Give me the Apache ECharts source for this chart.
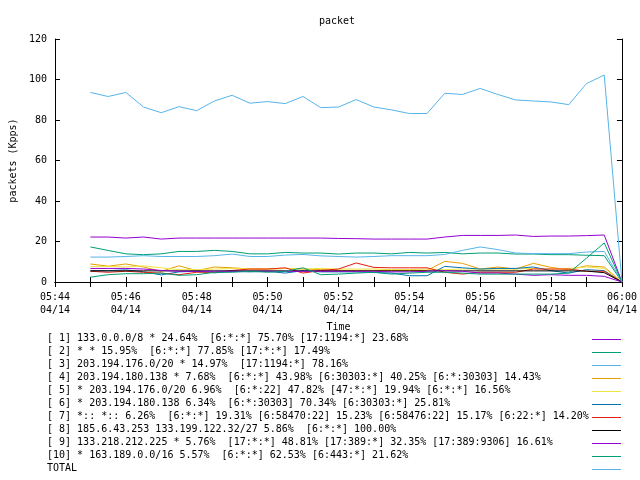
<!DOCTYPE html>
<html>
<head>
<meta charset="utf-8">
<script src="https://cdn.jsdelivr.net/npm/echarts@6/dist/echarts.min.js"></script>
<style>html,body{margin:0;padding:0;background:#fff;}#c{width:640px;height:480px;}</style>
</head>
<body>
<div id="c"></div>
<script>
var times = ["05:45:00","05:45:30","05:46:00","05:46:30","05:47:00","05:47:30","05:48:00","05:48:30","05:49:00","05:49:30",
  "05:50:00","05:50:30","05:51:00","05:51:30","05:52:00","05:52:30","05:53:00","05:53:30","05:54:00","05:54:30",
  "05:55:00","05:55:30","05:56:00","05:56:30","05:57:00","05:57:30","05:58:00","05:58:30","05:59:00","05:59:30","06:00:00"];

var names = [
  "[ 1] 133.0.0.0/8 * 24.64%  [6:*:*] 75.70% [17:1194:*] 23.68%",
  "[ 2] * * 15.95%  [6:*:*] 77.85% [17:*:*] 17.49%",
  "[ 3] 203.194.176.0/20 * 14.97%  [17:1194:*] 78.16%",
  "[ 4] 203.194.180.138 * 7.68%  [6:*:*] 43.98% [6:30303:*] 40.25% [6:*:30303] 14.43%",
  "[ 5] * 203.194.176.0/20 6.96%  [6:*:22] 47.82% [47:*:*] 19.94% [6:*:*] 16.56%",
  "[ 6] * 203.194.180.138 6.34%  [6:*:30303] 70.34% [6:30303:*] 25.81%",
  "[ 7] *:: *:: 6.26%  [6:*:*] 19.31% [6:58470:22] 15.23% [6:58476:22] 15.17% [6:22:*] 14.20%",
  "[ 8] 185.6.43.253 133.199.122.32/27 5.86%  [6:*:*] 100.00%",
  "[ 9] 133.218.212.225 * 5.76%  [17:*:*] 48.81% [17:389:*] 32.35% [17:389:9306] 16.61%",
  "[10] * 163.189.0.0/16 5.57%  [6:*:*] 62.53% [6:443:*] 21.62%",
  "TOTAL"
];

var colors = ["#9400d3","#009e73","#56b4e9","#e69f00","#f0e442","#0072b2","#e51e10","#000000","#9400d3","#009e73","#56b4e9"];

var s1 = [22.2,22.2,21.7,22.2,21.2,21.7,21.7,21.7,21.7,21.7,21.7,21.7,21.7,21.7,21.5,21.4,21.2,21.2,21.2,21.2,22.2,23.0,23.0,23.0,23.2,22.5,22.7,22.7,22.9,23.2,0];
var s2 = [17.3,15.6,13.9,13.5,13.9,15.1,15.1,15.6,15.1,13.9,13.9,14.6,14.3,14.3,13.8,14.3,14.3,13.9,14.6,14.3,14.6,13.9,14.3,14.3,13.8,13.8,13.5,13.5,13.2,13.0,0];
var s3 = [12.3,12.3,12.6,13.0,12.6,12.6,12.6,13.0,13.8,12.6,12.6,13.3,13.6,12.9,12.6,12.3,12.6,13.0,13.0,13.0,13.6,15.6,17.3,16.0,14.3,14.0,14.0,14.0,14.8,15.1,0];
var s4 = [8.9,7.8,8.9,7.4,5.3,8.0,5.6,7.4,7.0,6.4,6.4,6.7,6.4,6.1,5.7,5.7,5.7,5.7,5.7,5.7,10.2,9.2,6.4,7.4,6.4,9.2,7.2,6.1,8.0,7.4,0];
var s5 = [7.7,7.7,7.4,8.0,7.0,6.1,6.1,6.4,6.7,6.4,6.4,6.7,6.4,6.7,6.4,6.4,6.4,6.1,6.1,6.4,6.1,6.4,6.4,6.4,6.4,6.7,6.4,6.7,7.4,6.7,0];
var s6 = [5.6,5.6,6.0,5.0,3.5,5.0,5.3,4.5,5.3,5.0,5.3,4.4,5.6,5.0,5.0,5.0,4.7,4.4,3.1,3.1,7.7,7.0,6.4,6.7,6.7,7.4,5.6,4.4,6.1,5.6,0];
var s7 = [5.3,4.8,5.3,4.8,4.4,3.6,4.8,4.8,5.7,6.4,6.4,7.0,4.4,5.7,6.4,9.4,7.2,7.0,7.0,7.0,4.8,3.9,4.8,4.8,4.8,6.4,6.4,6.4,5.3,5.3,0];
var s8 = [5.5,5.5,5.5,5.5,5.5,5.5,5.5,5.5,5.5,5.5,5.5,5.5,5.5,5.5,5.5,5.5,5.5,5.5,5.5,5.5,5.5,5.5,5.5,5.5,5.5,5.5,5.5,5.5,5.4,4.6,0];
var s9 = [6.7,6.7,6.7,6.4,5.7,5.3,5.3,5.3,5.3,5.3,5.3,5.3,5.3,5.3,5.3,5.3,5.3,5.0,5.0,5.3,5.6,5.3,4.4,4.4,3.9,3.3,3.6,3.3,3.3,2.8,0];
var s10 = [2.4,3.6,4.1,4.1,4.4,3.3,3.6,4.8,4.8,5.3,4.8,5.3,7.0,3.6,3.9,4.4,4.8,3.9,4.4,4.8,4.8,4.4,3.9,3.9,3.9,3.9,3.9,4.4,11.8,19.3,0];
var total = [93.6,91.6,93.6,86.4,83.6,86.6,84.6,89.4,92.2,88.3,89.1,88.1,91.6,86.1,86.4,90.1,86.4,85.0,83.2,83.2,93.2,92.6,95.6,92.6,89.9,89.4,88.9,87.6,98.0,102.2,0];

var yTicks = [0,20,40,60,80,100,120];

var allSeries = [s1,s2,s3,s4,s5,s6,s7,s8,s9,s10,total];

function toMin(t){ var p=t.split(':'); return +p[0]*60 + +p[1] + (+p[2])/60; }
function pad(n){ return (n<10?'0':'')+n; }

var FONT = 'DejaVu Sans Mono';
var chart = echarts.init(document.getElementById('c'), null, {renderer:'canvas'});

var series = allSeries.map(function(vals, k){
  return {
    type:'line', name:names[k], showSymbol:false, symbol:'none', animation:false,
    lineStyle:{color:colors[k], width:1}, itemStyle:{color:colors[k]},
    data: vals.map(function(v,i){ return [toMin(times[i]), v]; }),
    xAxisIndex:0, yAxisIndex:0, z: 2+k
  };
});

var graphics = [];
names.forEach(function(n,k){
  var yc = 339.5 + 13*k;
  graphics.push({type:'text', left:47, top: yc-6, style:{text:n, font:'10px "'+FONT+'"', fill:'#000'}});
  graphics.push({type:'line', shape:{x1:592, y1:yc, x2:621, y2:yc}, style:{stroke:colors[k], lineWidth:1}});
});

var xMin = 344, xMax = 360;
var tickCommon = {show:true, inside:true, length:5, lineStyle:{color:'#000', width:1}};
var lineCommon = {show:true, lineStyle:{color:'#000', width:1}};

chart.setOption({
  animation:false,
  backgroundColor:'#fff',
  title:{text:'packet', top:16, padding:0, left:319, textStyle:{fontFamily:FONT, fontSize:10, fontWeight:'normal', color:'#000'}},
  grid:{left:52, right:18, top:39, bottom:198},
  xAxis:[{
    type:'value', min:xMin, max:xMax, interval:1, position:'bottom',
    name:'Time', nameLocation:'middle', nameGap:40, nameTextStyle:{fontFamily:FONT, fontSize:10, color:'#000'},
    axisLine:lineCommon, axisTick:tickCommon, splitLine:{show:false},
    axisLabel:{fontFamily:FONT, fontSize:10, color:'#000', margin:9, lineHeight:13,
      formatter:function(v){ var m=Math.round(v); if(m%2) return ''; return pad(Math.floor(m/60))+':'+pad(m%60)+'\n04/14'; }}
  },{
    type:'value', min:xMin, max:xMax, interval:1, position:'top',
    axisLine:lineCommon, axisTick:tickCommon, axisLabel:{show:false}, splitLine:{show:false}
  }],
  yAxis:[{
    type:'value', min:yTicks[0], max:yTicks[yTicks.length-1], interval:yTicks[1]-yTicks[0],
    name:'packets (Kpps)', nameLocation:'middle', nameGap:36, nameTextStyle:{fontFamily:FONT, fontSize:10, color:'#000'},
    axisLine:lineCommon, axisTick:tickCommon, splitLine:{show:false},
    axisLabel:{fontFamily:FONT, fontSize:10, color:'#000', margin:8}
  },{
    type:'value', min:yTicks[0], max:yTicks[yTicks.length-1], interval:yTicks[1]-yTicks[0], position:'right',
    axisLine:lineCommon, axisTick:tickCommon, axisLabel:{show:false}, splitLine:{show:false}
  }],
  series:series,
  graphic:graphics
});
</script>
</body>
</html>
